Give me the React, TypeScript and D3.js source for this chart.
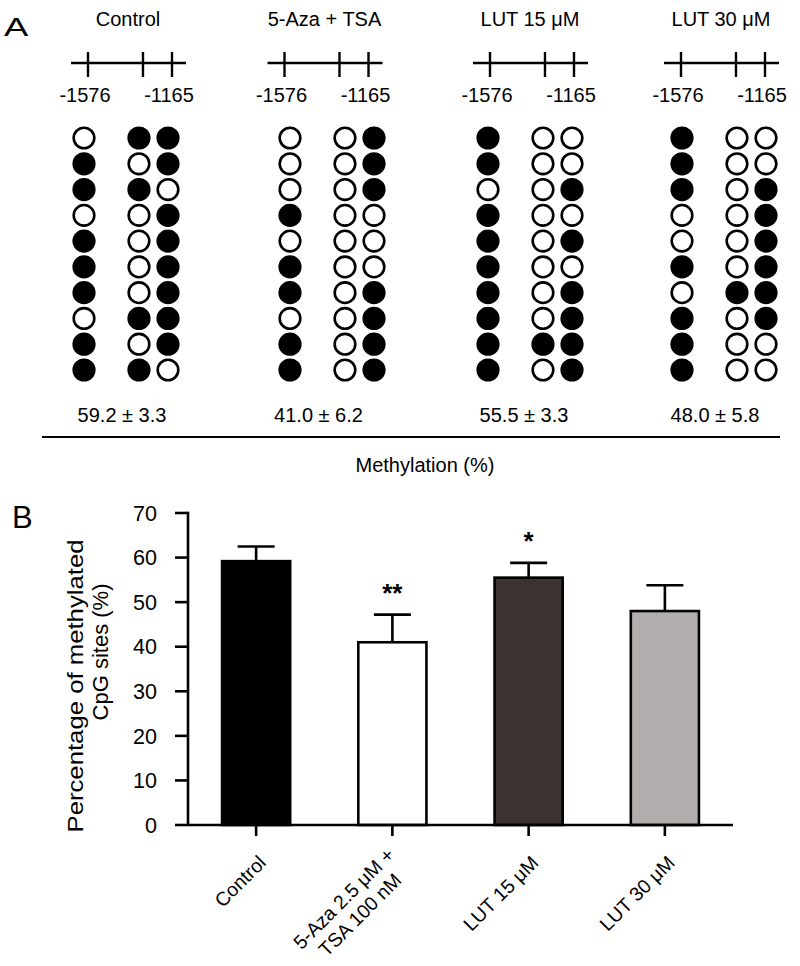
import React from 'react';
import * as d3 from 'd3';

// ---------- Panel A data ----------
const groups = ['Control', '5-Aza + TSA', 'LUT 15 μM', 'LUT 30 μM'];
const cpgSites = [-1576, -1307, -1165];
const labeledSites = [-1576, -1165];
// methylation state per CpG site (column), 10 clones each (1 = methylated)
const controlClones = [
  [0, 1, 1, 0, 1, 1, 1, 0, 1, 1],
  [1, 0, 1, 0, 0, 0, 0, 1, 0, 1],
  [1, 1, 0, 1, 1, 1, 1, 1, 1, 0],
];
const azaTsaClones = [
  [0, 0, 0, 1, 0, 1, 1, 0, 1, 1],
  [0, 0, 0, 0, 0, 0, 0, 0, 0, 0],
  [1, 1, 1, 0, 0, 0, 1, 1, 1, 1],
];
const lut15Clones = [
  [1, 1, 0, 1, 1, 1, 1, 1, 1, 1],
  [0, 0, 0, 0, 0, 0, 0, 0, 1, 0],
  [0, 0, 1, 0, 1, 0, 1, 1, 1, 1],
];
const lut30Clones = [
  [1, 1, 1, 0, 0, 1, 0, 1, 1, 1],
  [0, 0, 0, 0, 0, 0, 1, 0, 0, 0],
  [0, 0, 1, 1, 1, 1, 1, 1, 0, 0],
];
const groupClones = [controlClones, azaTsaClones, lut15Clones, lut30Clones];
const methylationLabels = ['59.2 ± 3.3', '41.0 ± 6.2', '55.5 ± 3.3', '48.0 ± 5.8'];

// ---------- Panel B data ----------
const barCategories = ['Control', '5-Aza 2.5 μM +|TSA 100 nM', 'LUT 15 μM', 'LUT 30 μM'];
const barMeans = [59.2, 41.0, 55.5, 48.0];
const barErrors = [3.3, 6.2, 3.3, 5.8];
const barSignificance = ['', '**', '*', ''];
const yTickValues = [0, 10, 20, 30, 40, 50, 60, 70];

const FONT = 'Liberation Sans, Arial, Helvetica, sans-serif';

function measure(text: string, size: number): number {
  try {
    const c = document.createElement('canvas').getContext('2d');
    if (c) {
      c.font = `${size}px ${FONT}`;
      return c.measureText(text).width;
    }
  } catch (e) {}
  return text.length * size * 0.55;
}

export default function App() {
  // Panel A scales
  const headerCenter = d3.scaleOrdinal<string, number>().domain(groups).range([128, 324.5, 530, 721]);
  const gridCenter = d3.scaleOrdinal<string, number>().domain(groups).range([124, 330, 528, 722]);
  const siteOffset = d3.scaleLinear().domain([-1576, -1165]).range([-40, 44]);
  const rowY = d3.scaleLinear().domain([0, 9]).range([138, 370]);

  // Panel B scales
  const y = d3.scaleLinear().domain([0, 70]).range([825, 513]);
  const x = d3.scaleBand<string>().domain(barCategories).range([188, 733]).paddingInner(0.5).paddingOuter(0.25);
  const barFills = ['#000000', '#ffffff', '#3a3330', '#b3aeae'];

  const labelSize = 19.5;

  return (
    <svg width={800} height={966} style={{ position: 'absolute', left: 0, top: 0, display: 'block', background: '#fff' }} fontFamily={FONT}>
      {/* ---------- Panel A ---------- */}
      <text x={0} y={0} fontSize={26} transform="translate(4,36) scale(1.4,1)">A</text>
      {groups.map((g, gi) => {
        const hc = headerCenter(g);
        const gc = gridCenter(g);
        return (
          <g key={g}>
            <text x={hc} y={26} fontSize={20} textAnchor="middle">{g}</text>
            <line x1={hc - 57} x2={hc + 58} y1={63} y2={63} stroke="#000" strokeWidth={2.6} />
            {cpgSites.map((s) => (
              <line key={s} x1={hc + siteOffset(s)} x2={hc + siteOffset(s)} y1={52} y2={77} stroke="#000" strokeWidth={2.4} />
            ))}
            {labeledSites.map((s) => (
              <text key={s} x={hc + siteOffset(s) - 3} y={102} fontSize={20} textAnchor="middle">{String(s)}</text>
            ))}
            {groupClones[gi].map((col, ci) =>
              col.map((m, ri) => (
                <circle
                  key={`${ci}-${ri}`}
                  cx={gc + siteOffset(cpgSites[ci])}
                  cy={rowY(ri)}
                  r={10.3}
                  fill={m ? '#000' : '#fff'}
                  stroke="#000"
                  strokeWidth={2.6}
                />
              ))
            )}
            <text x={hc - 6} y={422} fontSize={20} textAnchor="middle">{methylationLabels[gi]}</text>
          </g>
        );
      })}
      <line x1={42} x2={780} y1={437} y2={437} stroke="#000" strokeWidth={2} />
      <text x={425} y={472} fontSize={20} textAnchor="middle">Methylation (%)</text>

      {/* ---------- Panel B ---------- */}
      <text x={12} y={528} fontSize={31}>B</text>
      {/* y axis */}
      <line x1={188} x2={188} y1={y(70) - 1.2} y2={y(0)} stroke="#000" strokeWidth={2.6} />
      {yTickValues.map((t) => (
        <g key={t}>
          <line x1={175} x2={188} y1={y(t)} y2={y(t)} stroke="#000" strokeWidth={2.6} />
          <text x={157} y={y(t)} dy="0.36em" fontSize={21.5} textAnchor="end">{t}</text>
        </g>
      ))}
      <text
        transform={`translate(83,686) rotate(-90)`}
        fontSize={22}
        textAnchor="middle"
        textLength={293}
        lengthAdjust="spacingAndGlyphs"
      >
        Percentage of methylated
      </text>
      <text transform={`translate(108,652) rotate(-90)`} fontSize={22} textAnchor="middle">
        CpG sites (%)
      </text>

      {/* bars */}
      {barCategories.map((c, i) => {
        const bx = x(c) as number;
        const bw = x.bandwidth();
        const cx = bx + bw / 2;
        const top = y(barMeans[i]);
        const errTop = y(barMeans[i] + barErrors[i]);
        return (
          <g key={c}>
            <line x1={cx} x2={cx} y1={top} y2={errTop} stroke="#000" strokeWidth={2.6} />
            <line x1={cx - 18.5} x2={cx + 18.5} y1={errTop} y2={errTop} stroke="#000" strokeWidth={2.6} />
            <rect x={bx} y={top} width={bw} height={y(0) - top} fill={barFills[i]} stroke="#000" strokeWidth={2.6} />
            {barSignificance[i] && (
              <text x={cx} y={errTop - 13} fontSize={26} fontWeight="bold" textAnchor="middle">{barSignificance[i]}</text>
            )}
          </g>
        );
      })}

      {/* x axis */}
      <line x1={188} x2={733} y1={y(0)} y2={y(0)} stroke="#000" strokeWidth={2.6} />
      {barCategories.map((c) => {
        const cx = (x(c) as number) + x.bandwidth() / 2;
        const lines = c.split('|');
        const w1 = measure(lines[0], labelSize);
        return (
          <g key={c}>
            <line x1={cx} x2={cx} y1={y(0)} y2={y(0) + 11} stroke="#000" strokeWidth={2.6} />
            <g transform={`translate(${cx + 11},${864}) rotate(-45)`}>
              {lines.length === 1 ? (
                <text fontSize={labelSize} textAnchor="end">{lines[0]}</text>
              ) : (
                lines.map((ln, li) => (
                  <text key={li} x={-w1 / 2} y={li === 0 ? -11 : 12} fontSize={labelSize} textAnchor="middle">{ln}</text>
                ))
              )}
            </g>
          </g>
        );
      })}
    </svg>
  );
}
